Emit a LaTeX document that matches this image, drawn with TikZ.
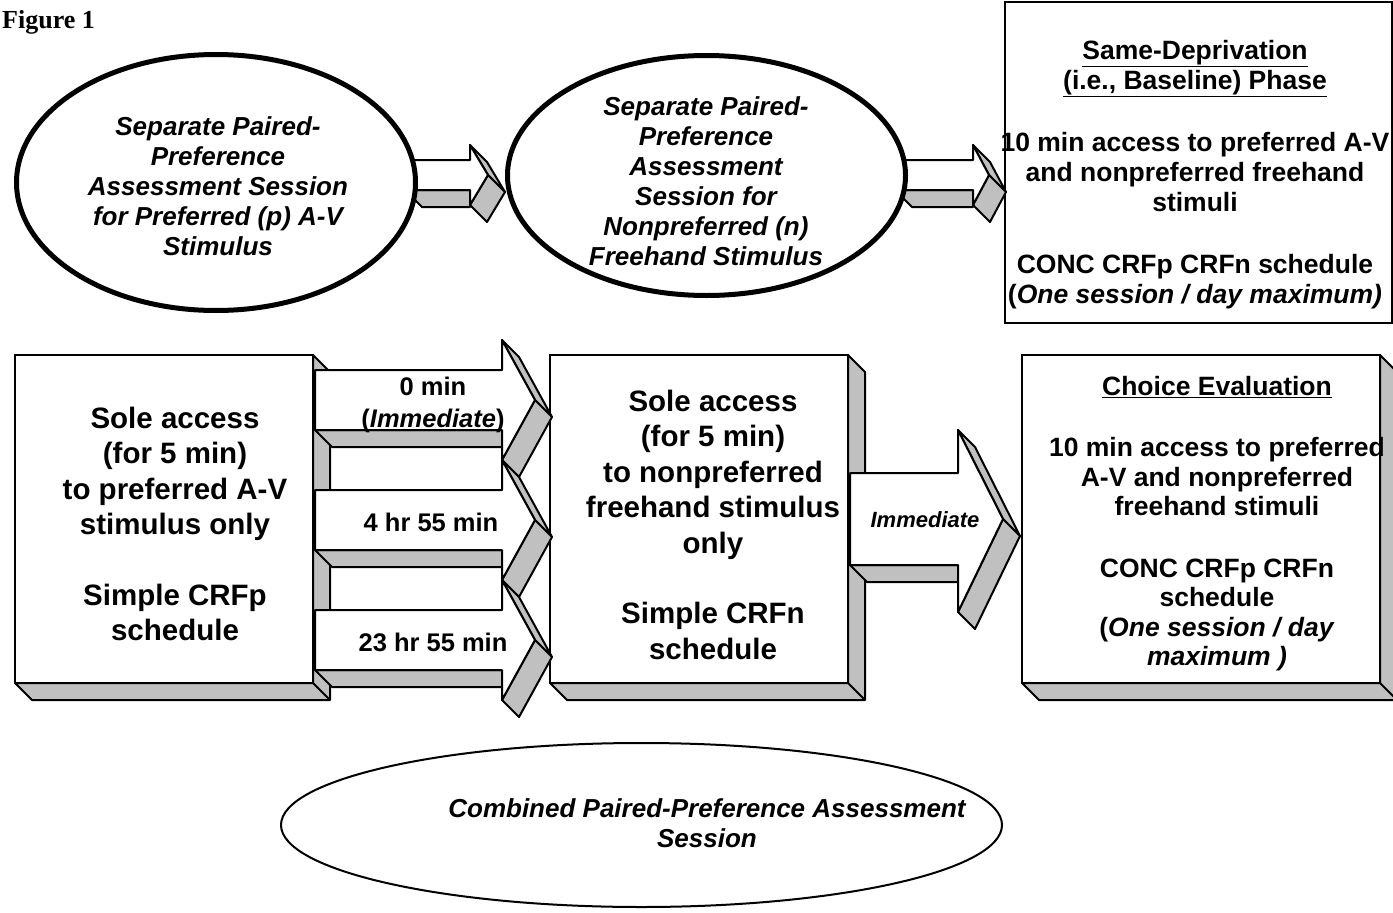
\documentclass[tikz,border=0pt]{standalone}
\usepackage{fontspec}
\setmainfont{Liberation Sans}
\newfontfamily\figfont{Liberation Serif}
\usetikzlibrary{shapes.geometric}
\definecolor{depthgray}{RGB}{192,192,192}

\newcommand{\panelfont}{\fontsize{29.5}{35.5}\selectfont\bfseries}
\newcommand{\phasefont}{\fontsize{26.5}{30}\selectfont\bfseries}
\newcommand{\choicefont}{\fontsize{26.5}{29.5}\selectfont\bfseries}
\newcommand{\ovalfont}{\fontsize{26}{30}\selectfont\bfseries\itshape}
\newcommand{\gapfont}{\fontsize{25.5}{32}\selectfont\bfseries}

% 3-D depth of a box node: #1 name, #2 width, #3 height
\newcommand{\slabdepth}[3]{%
  \draw[depthface] (#1.north east) -- ++(17,17) -- ++(0,#3) -- ++(-#2,0) -- (#1.south west) -- (#1.south east) -- cycle;
  \draw[depthface] (#1.south east) -- ++(17,17);
}
% 3-D block arrow: xL, shaft top, shaft bottom, head x, head top, head bottom, tip x, tip y
\newcommand{\blockarrow}[8]{%
  \filldraw[depthface] (#1,#3) -- (#4,#3) -- (#4,#3+17) -- (#1+17,#3+17) -- cycle;
  \filldraw[depthface] (#4,#5) -- (#4+17,#5+17) -- (#7+17,#8+17) -- (#7,#8) -- cycle;
  \filldraw[depthface] (#7,#8) -- (#7+17,#8+17) -- (#4+17,#6+17) -- (#4,#6) -- cycle;
  \filldraw[frontface] (#1,#2) -- (#4,#2) -- (#4,#5) -- (#7,#8) -- (#4,#6) -- (#4,#3) -- (#1,#3) -- cycle;
}

\begin{document}
\begin{tikzpicture}[x=1pt, y=-1pt,
    panel/.style={rectangle, draw, line width=2.5pt, fill=white, inner sep=0pt, outer sep=0pt},
    oval/.style={ellipse, draw, fill=white, inner sep=0pt, outer sep=0pt},
    depthface/.style={draw, fill=depthgray, line width=2pt, line join=round},
    frontface/.style={draw, fill=white, line width=2pt, line join=round},
    txt/.style={align=center, inner sep=0pt}]
    \useasboundingbox (0,0) rectangle (1393,913);

    \node (figlabel) [anchor=base west, inner sep=0pt] at (2,28) {\figfont\bfseries\fontsize{26}{30}\selectfont Figure 1};

    % boxes with depth
    \node (soleP) [panel, minimum width=298, minimum height=328] at (164,519) {};
    \slabdepth{soleP}{298}{328}
    \node (soleN) [panel, minimum width=298, minimum height=328] at (699,519) {};
    \slabdepth{soleN}{298}{328}
    \node (choice) [panel, minimum width=358, minimum height=328] at (1201,519) {};
    \slabdepth{choice}{358}{328}
    \node (samedep) [panel, line width=2pt, minimum width=387, minimum height=321] at (1198.5,162.5) {};

    % block arrows
    \blockarrow{315}{370}{430}{502}{340}{460}{535}{400}
    \blockarrow{315}{490}{550}{502}{460}{580}{535}{520}
    \blockarrow{315}{610}{670}{502}{580}{700}{535}{640}
    \blockarrow{850}{473}{565}{958}{430}{612}{1003}{519}
    \blockarrow{405}{160}{190}{470}{145}{205}{488}{175}
    \blockarrow{895}{160}{190}{973}{145}{205}{989}{175}

    % sessions
    \node (sepP) [oval, line width=5pt, minimum width=399, minimum height=256] at (216,182.5) {};
    \node (sepN) [oval, line width=5pt, minimum width=398, minimum height=240] at (706.5,175.5) {};
    \node (combined) [oval, line width=2pt, minimum width=721, minimum height=164] at (641.5,825) {};

    \node (sepPtxt) [txt, font=\ovalfont] at (218,186.5) {Separate Paired-\\Preference\\Assessment Session\\for Preferred (p) A-V\\Stimulus};
    \node (sepNtxt) [txt, font=\ovalfont] at (706,181) {Separate Paired-\\Preference\\Assessment\\Session for\\Nonpreferred (n)\\Freehand Stimulus};
    \node (combinedtxt) [txt, font=\ovalfont] at (707,823.5) {Combined Paired-Preference Assessment\\Session};

    \node (samedeptxt) [txt, font=\phasefont] at (1195,174.5) {\underline{Same-Deprivation}\\\underline{(i.e., Baseline) Phase}\\[32pt]10 min access to preferred A-V\\and nonpreferred freehand\\stimuli\\[32pt]CONC CRFp CRFn schedule\\(\textit{One session / day maximum)}};
    \node (soletxtP) [txt, font=\panelfont] at (175,524) {Sole access\\(for 5 min)\\to preferred A-V\\stimulus only\\[35pt]Simple CRFp\\schedule};
    \node (soletxtN) [txt, font=\panelfont] at (713,524.5) {Sole access\\(for 5 min)\\to nonpreferred\\freehand stimulus\\only\\[35pt]Simple CRFn\\schedule};
    \node (choicetxt) [txt, font=\choicefont] at (1217,523.5) {\underline{Choice Evaluation}\\[32pt]10 min access to preferred\\A-V and nonpreferred\\freehand stimuli\\[32pt]CONC CRFp CRFn\\schedule\\(\textit{One session / day}\\\textit{maximum )}};

    % delays
    \node (gap0) [txt, font=\gapfont] at (433,405) {0 min\\(\textit{Immediate})};
    \node (gap1) [txt, font=\gapfont] at (431,522) {4 hr 55 min};
    \node (gap2) [txt, font=\gapfont] at (433,642) {23 hr 55 min};
    \node (gap3) [txt, font=\fontsize{22}{26}\selectfont\bfseries\itshape] at (925,520) {Immediate};
\end{tikzpicture}
\end{document}
